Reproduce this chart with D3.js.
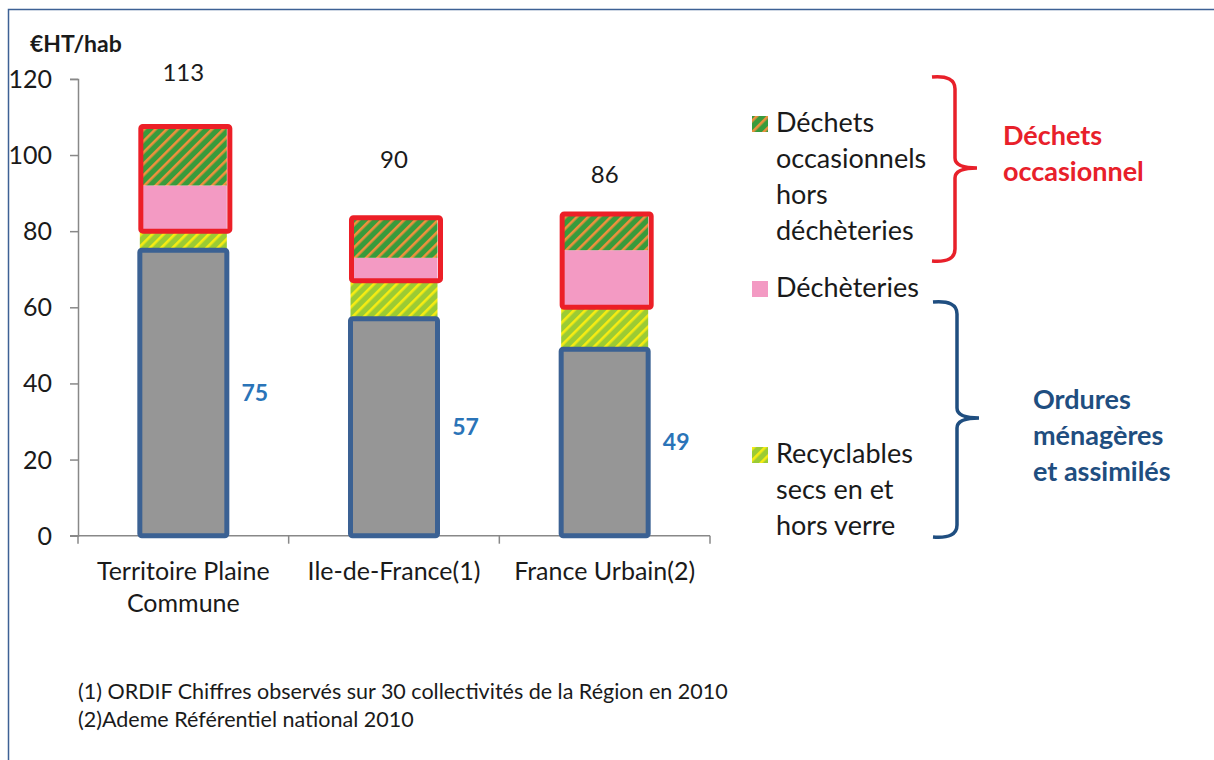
<!DOCTYPE html>
<html>
<head>
<meta charset="utf-8">
<script src="https://cdn.jsdelivr.net/npm/d3@7"></script>
<style>
  body { margin: 0; background: #fff; }
  text { font-family: Lato, "Open Sans", sans-serif; fill: #1a1a1a; }
</style>
</head>
<body>
<svg width="1214" height="760"></svg>
<script>
// categories and stacked values (€HT/hab)
const categories = ["Territoire Plaine Commune", "Ile-de-France(1)", "France Urbain(2)"];
const categoryLines = [["Territoire Plaine", "Commune"], ["Ile-de-France(1)"], ["France Urbain(2)"]];
const omr = [75, 57, 49];            // ordures ménagères résiduelles (gray)
const recyclables = [5, 10, 11];
const decheteries = [12, 6, 15];
const occasionnels = [15, 10, 9];
const totals = [113, 90, 86];
const yTicks = [0, 20, 40, 60, 80, 100, 120];

const footnotes = [
    "(1) ORDIF Chiffres observés sur 30 collectivités de la Région en 2010",
    "(2)Ademe Référentiel national 2010"
];

const svg = d3.select("svg");

// frame around the chart area (left and top edges visible)
svg.append("path")
    .attr("d", "M8.5,760 V9.5 H1214")
    .attr("fill", "none")
    .attr("stroke", "#3d6195")
    .attr("stroke-width", 1.5);

// patterns for hatched series
const defs = svg.append("defs");
function stripes(id, base, stripe) {
    const p = defs.append("pattern")
        .attr("id", id)
        .attr("patternUnits", "userSpaceOnUse")
        .attr("width", 8)
        .attr("height", 8)
        .attr("patternTransform", "rotate(45)");
    p.append("rect").attr("width", 8).attr("height", 8).attr("fill", base);
    p.append("rect").attr("width", 2.6).attr("height", 8).attr("fill", stripe);
}
stripes("hatch-occ", "#389b3c", "#f0903c");
stripes("hatch-rec", "#9bcb34", "#f7ec12");

const x = d3.scaleBand()
    .domain(categories)
    .range([78, 710])
    .paddingInner(0.587)
    .paddingOuter(0.2935);

const y = d3.scaleLinear()
    .domain([0, 120])
    .range([535.7, 78.9]);

// y axis
const yAxis = svg.append("g")
    .attr("transform", "translate(78,0)")
    .call(d3.axisLeft(y).tickValues(yTicks).tickSize(8).tickPadding(18));
yAxis.select(".domain").attr("stroke", "#888").attr("stroke-width", 1.5);
yAxis.selectAll(".tick line").attr("stroke", "#888").attr("stroke-width", 1.5);
yAxis.selectAll(".tick text")
    .attr("font-size", 25)
    .attr("dy", "0.34em")
    .attr("fill", "#1a1a1a")
    .style("font-family", "Lato, sans-serif");

// x axis: baseline with ticks at the category boundaries
const xAxis = svg.append("g")
    .attr("transform", `translate(0,${y(0)})`);
xAxis.append("line")
    .attr("x1", 70).attr("x2", x.range()[1])
    .attr("stroke", "#888").attr("stroke-width", 1.5);
xAxis.selectAll("line.tick")
    .data(d3.range(categories.length + 1))
    .join("line")
    .attr("class", "tick")
    .attr("x1", i => x.range()[0] + i * x.step())
    .attr("x2", i => x.range()[0] + i * x.step())
    .attr("y1", 0).attr("y2", 8)
    .attr("stroke", "#888").attr("stroke-width", 1.5);

// category labels
svg.append("g")
    .selectAll("text")
    .data(categories)
    .join("text")
    .attr("x", d => x(d) + x.bandwidth() / 2)
    .attr("y", 580)
    .attr("text-anchor", "middle")
    .attr("font-size", 25)
    .selectAll("tspan")
    .data((d, i) => categoryLines[i])
    .join("tspan")
    .attr("x", function() { return this.parentNode.getAttribute("x"); })
    .attr("dy", (d, i) => i === 0 ? 0 : 32)
    .text(d => d);

// stacked segments
const rows = categories.map((c, i) => ({
    cat: c, omr: omr[i], rec: recyclables[i], dech: decheteries[i], occ: occasionnels[i]
}));
const keys = ["omr", "rec", "dech", "occ"];
const fills = {omr: "#969696", rec: "url(#hatch-rec)", dech: "#f39ac3", occ: "url(#hatch-occ)"};
const series = d3.stack().keys(keys)(rows);

svg.append("g")
    .selectAll("g")
    .data(series)
    .join("g")
    .attr("fill", d => fills[d.key])
    .selectAll("rect")
    .data(d => d)
    .join("rect")
    .attr("x", d => x(d.data.cat))
    .attr("width", x.bandwidth())
    .attr("y", d => y(d[1]))
    .attr("height", d => y(d[0]) - y(d[1]));

// blue outline on the residual waste part
svg.append("g")
    .selectAll("rect")
    .data(series[0])
    .join("rect")
    .attr("x", d => x(d.data.cat))
    .attr("width", x.bandwidth())
    .attr("y", d => y(d[1]))
    .attr("height", d => y(d[0]) - y(d[1]))
    .attr("fill", "none")
    .attr("stroke", "#3b6193")
    .attr("stroke-width", 5)
    .attr("rx", 2);

// red outline on the occasional waste part (déchèteries + hors déchèteries)
svg.append("g")
    .selectAll("rect")
    .data(series[3])
    .join("rect")
    .attr("x", d => x(d.data.cat) + 1)
    .attr("width", x.bandwidth() + 2)
    .attr("y", d => y(d[1]) - 2)
    .attr("height", (d, i) => y(series[2][i][0]) - y(d[1]) + 2)
    .attr("fill", "none")
    .attr("stroke", "#ec1f27")
    .attr("stroke-width", 5)
    .attr("rx", 2);

// totals above bars
svg.append("g")
    .selectAll("text")
    .data(totals)
    .join("text")
    .attr("x", (d, i) => x(categories[i]) + x.bandwidth() / 2)
    .attr("y", d => y(d) - 33 + 8)
    .attr("text-anchor", "middle")
    .attr("font-size", 24)
    .text(d => d);

// residual waste values
svg.append("g")
    .selectAll("text")
    .data(rows)
    .join("text")
    .attr("x", d => x(d.cat) + x.bandwidth() + 28)
    .attr("y", d => y(d.omr / 2) + 8)
    .attr("text-anchor", "middle")
    .attr("font-size", 23)
    .attr("font-weight", "bold")
    .style("fill", "#2a74b8")
    .text(d => d.omr);

// unit label
svg.append("text")
    .attr("x", 30)
    .attr("y", 52)
    .attr("font-size", 23)
    .attr("font-weight", "bold")
    .text("€HT/hab");

// legend
const legend = [
    {fill: "url(#hatch-occ)", lines: ["Déchets", "occasionnels", "hors", "déchèteries"], y: 123},
    {fill: "#f39ac3", lines: ["Déchèteries"], y: 288},
    {fill: "url(#hatch-rec)", lines: ["Recyclables", "secs en et", "hors verre"], y: 454}
];
const lg = svg.append("g").selectAll("g").data(legend).join("g");
lg.append("rect")
    .attr("x", 752).attr("y", d => d.y - 7)
    .attr("width", 16).attr("height", 16)
    .attr("fill", d => d.fill);
lg.append("text")
    .attr("y", d => d.y + 9)
    .attr("font-size", 27)
    .selectAll("tspan")
    .data(d => d.lines)
    .join("tspan")
    .attr("x", 776)
    .attr("dy", (d, i) => i === 0 ? 0 : 36)
    .text(d => d);

// braces
function brace(top, bottom, tip, x0, x1) {
    const mid = tip;
    return `M${x0},${top} Q${x1},${top - 2} ${x1},${top + 12} L${x1},${mid - 10}
            Q${x1},${mid} ${x1 + 22},${mid} Q${x1},${mid} ${x1},${mid + 10}
            L${x1},${bottom - 12} Q${x1},${bottom + 2} ${x0},${bottom}`;
}
svg.append("path")
    .attr("d", brace(77, 261, 168, 932, 955))
    .attr("fill", "none").attr("stroke", "#e8202a").attr("stroke-width", 3.5);
svg.append("path")
    .attr("d", brace(302, 537, 418, 933, 957))
    .attr("fill", "none").attr("stroke", "#1f4e80").attr("stroke-width", 3.5);

svg.append("text")
    .attr("y", 145)
    .attr("font-size", 27)
    .attr("font-weight", "bold")
    .style("fill", "#e8202a")
    .selectAll("tspan")
    .data(["Déchets", "occasionnel"])
    .join("tspan")
    .attr("x", 1003)
    .attr("dy", (d, i) => i === 0 ? 0 : 36)
    .text(d => d);

svg.append("text")
    .attr("y", 409)
    .attr("font-size", 27)
    .attr("font-weight", "bold")
    .style("fill", "#1f4e80")
    .selectAll("tspan")
    .data(["Ordures", "ménagères", "et assimilés"])
    .join("tspan")
    .attr("x", 1033)
    .attr("dy", (d, i) => i === 0 ? 0 : 36)
    .text(d => d);

// footnotes
svg.append("g")
    .selectAll("text")
    .data(footnotes)
    .join("text")
    .attr("x", 78)
    .attr("y", (d, i) => 699 + i * 28)
    .attr("font-size", 21.5)
    .text(d => d);
</script>
</body>
</html>
